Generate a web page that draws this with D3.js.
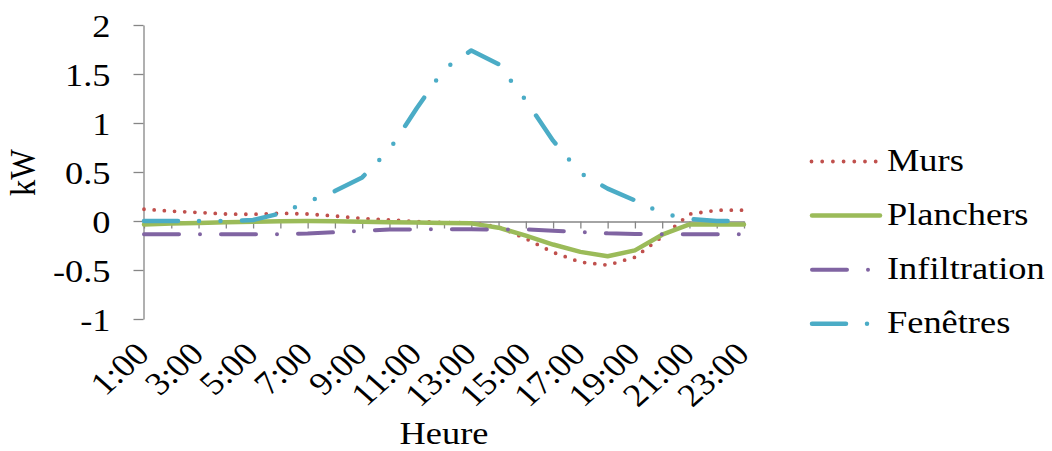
<!DOCTYPE html>
<html lang="fr">
<head>
<meta charset="UTF-8">
<title>kW par heure</title>
<script src="https://cdn.jsdelivr.net/npm/d3@7/dist/d3.min.js"></script>
<style>
  * { margin: 0; padding: 0; }
  body { background: #fff; width: 1052px; height: 451px; overflow: hidden; }
  svg { display: block; }
  text { font-family: "Liberation Serif", "Times New Roman", serif; fill: #000; }
</style>
</head>
<body>
<svg width="1052" height="451"></svg>
<script>
// Categories and values
const hours = ["1:00","2:00","3:00","4:00","5:00","6:00","7:00","8:00","9:00","10:00","11:00","12:00",
  "13:00","14:00","15:00","16:00","17:00","18:00","19:00","20:00","21:00","22:00","23:00"];
const murs = [0.12, 0.10, 0.087, 0.071, 0.068, 0.079, 0.071, 0.051, 0.026, 0.01, -0.005, -0.015,
  -0.02, -0.06, -0.18, -0.32, -0.42, -0.45, -0.37, -0.16, 0.07, 0.11, 0.11];
const planchers = [-0.035, -0.025, -0.02, -0.013, -0.007, -0.002, 0, -0.003, -0.007, -0.013, -0.015, -0.02,
  -0.024, -0.068, -0.15, -0.24, -0.315, -0.36, -0.30, -0.14, -0.035, -0.035, -0.035];
const infiltration = [-0.134, -0.134, -0.134, -0.134, -0.134, -0.134, -0.128, -0.115, -0.10, -0.087, -0.085, -0.085,
  -0.085, -0.087, -0.085, -0.10, -0.112, -0.126, -0.133, -0.136, -0.136, -0.136, -0.136];
const fenetres = [0, 0, 0, 0, 0.01, 0.077, 0.196, 0.306, 0.445, 0.727, 1.15, 1.55,
  1.74, 1.60, 1.23, 0.82, 0.49, 0.33, 0.21, 0.08, 0.02, 0, 0];
const yTicks = [-1, -0.5, 0, 0.5, 1, 1.5, 2];
const xLabels = ["1:00","3:00","5:00","7:00","9:00","11:00","13:00","15:00","17:00","19:00","21:00","23:00"];

const series = [
  { name: "Murs", values: murs, color: "#C0504D", width: 3.8, dash: "0 10.2" },
  { name: "Planchers", values: planchers, color: "#9BBB59", width: 4.5, dash: null },
  { name: "Infiltration", values: infiltration, color: "#8064A2", width: 4, dash: "35 21 0 21" },
  { name: "Fenêtres", values: fenetres, color: "#4BACC6", width: 4.5, dash: "34 21 0 21.5 0 21.5" }
];

const SX = 1.12; // text in the picture is a bit wider than tall
const svg = d3.select("svg");

const x = d3.scalePoint().domain(hours).range([144, 744]);
const y = d3.scaleLinear().domain([-1, 2]).range([319, 25]);

// Y axis
const yAxis = svg.append("g")
  .attr("transform", "translate(143.5,0)")
  .call(d3.axisLeft(y).tickValues(yTicks).tickSize(10).tickSizeOuter(0).tickFormat(d => String(d)));
yAxis.selectAll("path, line").attr("stroke", "#868686").attr("stroke-width", 1.3);
yAxis.selectAll("text").remove();
yAxis.selectAll(".tick").append("text")
  .attr("text-anchor", "end")
  .attr("font-size", 32.5)
  .attr("transform", "translate(-33,11) scale(" + SX + ",1)")
  .text(d => String(d));

// X axis at zero
const xAxis = svg.append("g")
  .attr("transform", "translate(0," + (y(0) + 0.5) + ")")
  .call(d3.axisBottom(x).tickSize(7).tickSizeOuter(0).tickFormat(""));
xAxis.selectAll("path, line").attr("stroke", "#868686").attr("stroke-width", 1.3);

// rotated category labels under the plot
svg.append("g").selectAll("text")
  .data(xLabels).enter().append("text")
  .attr("text-anchor", "end")
  .attr("font-size", 32.5)
  .attr("transform", d => "translate(" + (x(d) + 7) + ",356) scale(" + SX + ",1) rotate(-45)")
  .text(d => d);

// Series lines (straight segments, like the original)
const line = d3.line()
  .x((d, i) => x(hours[i]))
  .y(d => y(d));

svg.append("g").selectAll("path")
  .data(series).enter().append("path")
  .attr("d", d => line(d.values))
  .attr("fill", "none")
  .attr("stroke", d => d.color)
  .attr("stroke-width", d => d.width)
  .attr("stroke-linecap", "round")
  .attr("stroke-linejoin", "round")
  .attr("stroke-dasharray", d => d.dash);

// Legend
const legend = svg.append("g").selectAll("g")
  .data(series).enter().append("g")
  .attr("transform", (d, i) => "translate(0," + (161.5 + i * 54.1) + ")");
legend.append("path")
  .attr("d", d => d.name === "Murs" ? "M811.5,0H876" : "M812,0H880")
  .attr("fill", "none")
  .attr("stroke", d => d.color)
  .attr("stroke-width", d => d.width)
  .attr("stroke-linecap", "round")
  .attr("stroke-dasharray", d => d.name === "Murs" ? "0 10.7" : d.dash);
legend.append("text")
  .attr("font-size", 32.5)
  .attr("transform", "translate(887,9.5) scale(" + SX + ",1)")
  .text(d => d.name);

// Axis titles
svg.append("text")
  .attr("text-anchor", "middle")
  .attr("font-size", 32.5)
  .attr("transform", "translate(444,444) scale(" + SX + ",1)")
  .text("Heure");
svg.append("text")
  .attr("text-anchor", "middle")
  .attr("font-size", 32.5)
  .attr("transform", "translate(35,172.5) scale(" + SX + ",1) rotate(-90)")
  .text("kW");
</script>
</body>
</html>
